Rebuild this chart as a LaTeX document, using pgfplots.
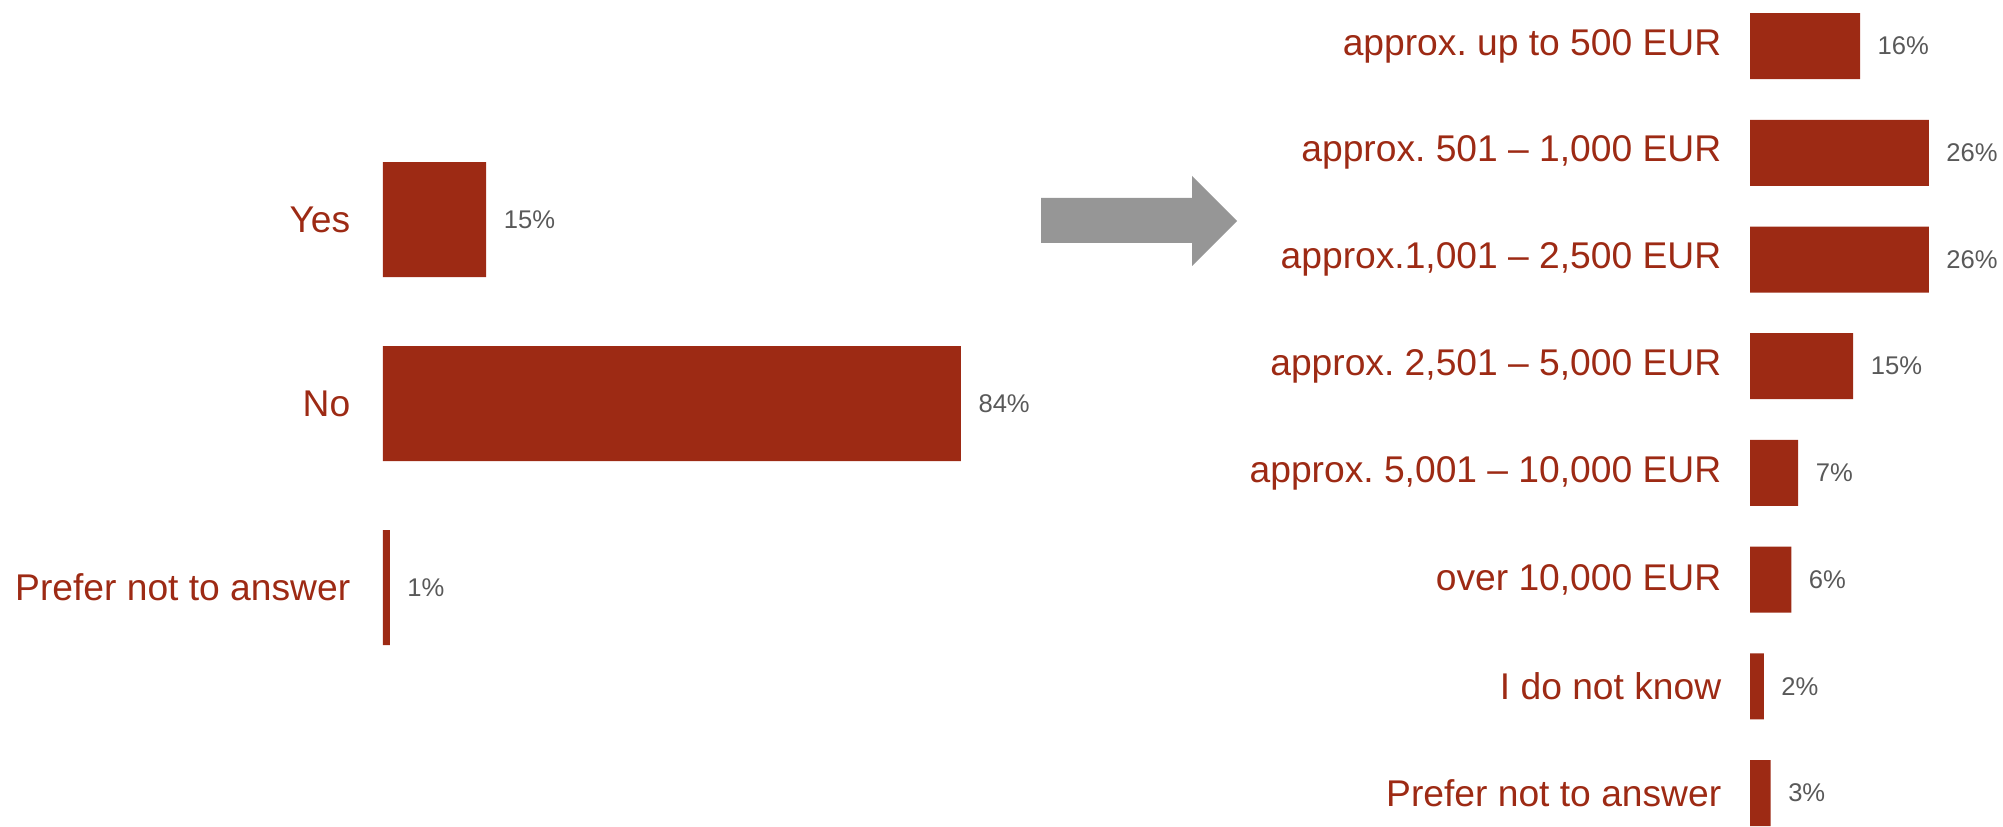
\documentclass[border=0pt]{standalone}
\usepackage{fontspec}
\setmainfont{Liberation Sans}
\usepackage{pgfplots}
\pgfplotsset{compat=1.18}
\frenchspacing
\definecolor{barred}{RGB}{157,42,20}
\definecolor{valgrey}{RGB}{89,89,89}
\definecolor{arrowgrey}{RGB}{150,150,150}
\pgfplotsset{mybar/.style={
  xbar, scale only axis, width=172pt, xmin=0, xmax=100,
  y dir=reverse,
  axis x line=none,
  axis y line*=left,
  y axis line style={draw=none},
  major tick length=0pt,
  ytick style={draw=none},
  yticklabel style={font=\fontsize{9.3}{11}\selectfont\frenchspacing, text=barred, inner sep=0pt, anchor=east, xshift=-8pt},
  /pgf/number format/assume math mode=true,
  point meta=x,
  nodes near coords={\pgfmathprintnumber{\pgfplotspointmeta}\%},
  nodes near coords style={font=\fontsize{6.4}{8}\selectfont, text=valgrey, anchor=west, inner sep=0pt, xshift=4.2pt},
  clip=false,
}}
\begin{document}
\begin{tikzpicture}
\begin{axis}[mybar,
  height=138pt, ymin=-0.5, ymax=2.5,
  at={(95.75pt,36.625pt)}, anchor=south west,
  ytick={0,1,2},
  yticklabels={Yes,No,Prefer not to answer},
]
\addplot[fill=barred, draw=none, bar width=28.75pt] coordinates {(15,0) (84,1) (1,2)};
\end{axis}
\begin{axis}[mybar,
  height=213.4pt, ymin=-0.5, ymax=7.5,
  at={(437.5pt,-5.09pt)}, anchor=south west,
  ytick={0,1,2,3,4,5,6,7},
  yticklabels={{approx. up to 500 EUR},{approx. 501 – 1,000 EUR},{approx.1,001 – 2,500 EUR},{approx. 2,501 – 5,000 EUR},{approx. 5,001 – 10,000 EUR},{over 10,000 EUR},{I do not know},{Prefer not to answer}},
  yticklabel style={xshift=1pt},
]
\addplot[fill=barred, draw=none, bar width=16.5pt] coordinates {(16,0) (26,1) (26,2) (15,3) (7,4) (6,5) (2,6) (3,7)};
\end{axis}
\fill[arrowgrey] (260.25pt,157pt) -- (298pt,157pt) -- (298pt,162.5pt) -- (309.25pt,151.25pt) -- (298pt,140pt) -- (298pt,145.75pt) -- (260.25pt,145.75pt) -- cycle;
\pgfresetboundingbox
\useasboundingbox (0,0) rectangle (500.75pt,206.5pt);
\end{tikzpicture}
\end{document}
